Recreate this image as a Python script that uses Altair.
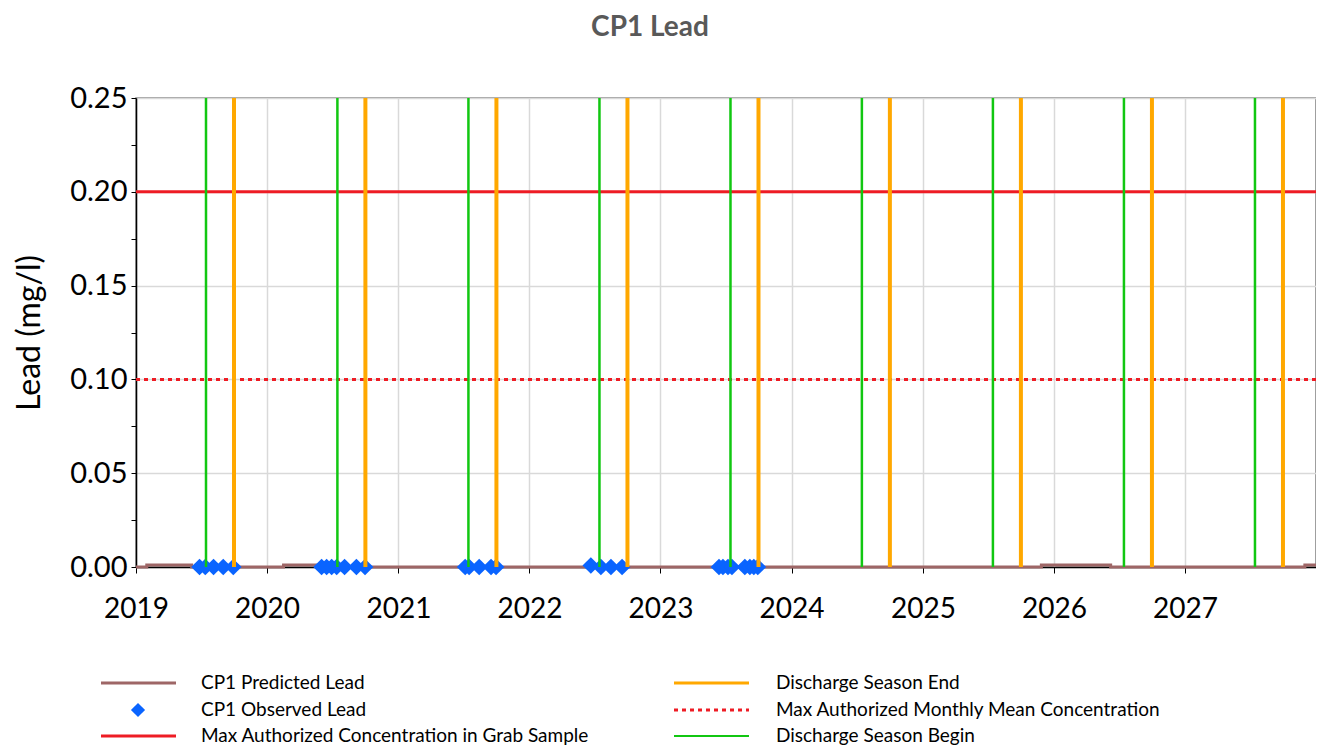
import altair as alt
import pandas as pd

# ---------------- data ----------------
begin_dates = ["2019-07-15T00:00:00", "2020-07-15T00:00:00", "2021-07-15T00:00:00",
               "2022-07-15T00:00:00", "2023-07-15T00:00:00", "2024-07-15T00:00:00",
               "2025-07-15T00:00:00", "2026-07-15T00:00:00", "2027-07-15T00:00:00"]
end_dates = ["2019-10-01T00:00:00", "2020-10-01T00:00:00", "2021-10-01T00:00:00",
             "2022-10-01T00:00:00", "2023-10-01T00:00:00", "2024-10-01T00:00:00",
             "2025-10-01T00:00:00", "2026-10-01T00:00:00", "2027-10-01T00:00:00"]

predicted_dates = ["2019-01-01T00:00:00", "2019-01-31T00:00:00", "2019-06-05T00:00:00",
                   "2020-02-16T00:00:00", "2020-05-22T00:00:00", "2025-11-27T00:00:00",
                   "2026-06-08T00:00:00", "2027-12-01T00:00:00", "2028-01-01T00:00:00"]
predicted_values = [0.0, 0.001, 0.0, 0.001, 0.0, 0.001, 0.0, 0.001, 0.001]

observed_dates = ["2019-06-27", "2019-07-13", "2019-08-05", "2019-09-01", "2019-09-29",
                  "2020-06-01", "2020-06-15", "2020-06-29", "2020-07-13", "2020-08-04",
                  "2020-09-06", "2020-09-30",
                  "2021-07-06", "2021-07-17", "2021-08-14", "2021-09-16", "2021-09-30",
                  "2022-06-21", "2022-07-19", "2022-08-16", "2022-09-16",
                  "2023-06-13", "2023-06-24", "2023-07-08", "2023-07-19", "2023-08-24",
                  "2023-09-07", "2023-09-18", "2023-09-29"]
observed_values = [0.0, 0.0, 0.0, 0.0, 0.0,
                   0.0, 0.0, 0.0, 0.0, 0.0, 0.0, 0.0,
                   0.0, 0.0, 0.0, 0.0, 0.0,
                   0.0008, 0.0, 0.0, 0.0,
                   0.0, 0.0, 0.0, 0.0, 0.0, 0.0, 0.0, 0.0]

grab_limit = [0.20]
monthly_limit = [0.10]

x_tick_years = [2019, 2020, 2021, 2022, 2023, 2024, 2025, 2026, 2027]
y_ticks = [0.0, 0.025, 0.05, 0.075, 0.10, 0.125, 0.15, 0.175, 0.20, 0.225, 0.25]

chart_title = ["CP1 Lead"]
series_names = ["CP1 Predicted Lead", "CP1 Observed  Lead",
                "Max Authorized Concentration in Grab Sample",
                "Discharge Season End", "Max Authorized Monthly Mean Concentration",
                "Discharge Season Begin"]

# ---------------- styles ----------------
FONT = "Lato"
C_PRED = "#9e6666"
C_OBS = "#0a64ff"
C_RED = "#ee1c24"
C_ORANGE = "#ffa800"
C_GREEN = "#11c711"
W = 1180
H = 469

obs_full_dates = [d + "T00:00:00" for d in observed_dates]

pred_df = pd.DataFrame({"date": predicted_dates, "value": predicted_values})
obs_df = pd.DataFrame({"date": obs_full_dates, "value": observed_values})
begin_df = pd.DataFrame({"date": begin_dates})
end_df = pd.DataFrame({"date": end_dates})
grab_df = pd.DataFrame({"value": grab_limit})
month_df = pd.DataFrame({"value": monthly_limit})

x_scale = alt.Scale(domain=[alt.DateTime(year=2019, month=1, date=1),
                            alt.DateTime(year=2028, month=1, date=1)])
y_scale = alt.Scale(domain=[0, 0.25], nice=False, zero=True)

x_axis = alt.Axis(values=[alt.DateTime(year=y, month=1, date=1) for y in x_tick_years],
                  format="%Y", labelFlush=False, tickSize=6, labelPadding=22,
                  labelFontSize=28, grid=True, title=None, labelOverlap=False)
y_axis = alt.Axis(values=y_ticks, title="Lead (mg/l)",
                  labelExpr="round(datum.value*1000) % 50 == 0 ? format(datum.value, '.2f') : ''",
                  gridOpacity={"condition": {"test": "round(datum.value*1000) % 50 == 0", "value": 1}, "value": 0},
                  tickSize=5, labelPadding=4, labelFontSize=29, titleFontSize=32,
                  titleFontWeight="normal", titlePadding=23, labelOverlap=False)


def X(field="date"):
    return alt.X(f"{field}:T", scale=x_scale, axis=x_axis)


def Y(field="value"):
    return alt.Y(f"{field}:Q", scale=y_scale, axis=y_axis)


grab = alt.Chart(grab_df).mark_rule(color=C_RED, strokeWidth=3).encode(y=Y())
month = alt.Chart(month_df).mark_rule(color=C_RED, strokeWidth=3, strokeDash=[4, 4]).encode(y=Y())
pred = alt.Chart(pred_df).mark_line(color=C_PRED, strokeWidth=3, interpolate="step-after").encode(x=X(), y=Y())
obs = alt.Chart(obs_df).mark_point(shape="diamond", filled=True, size=280, color=C_OBS, opacity=1).encode(x=X(), y=Y())
begin = alt.Chart(begin_df).mark_rule(color=C_GREEN, strokeWidth=2.5).encode(x=X())
end = alt.Chart(end_df).mark_rule(color=C_ORANGE, strokeWidth=4).encode(x=X())

title = alt.Chart(pd.DataFrame({"t": chart_title})).mark_text(
    align="center", baseline="alphabetic", fontSize=28, font=FONT, fontWeight="bold",
    color="#595959"
).encode(x=alt.value(514), y=alt.value(-62), text="t:N")


# ---------------- legend (drawn below the plot) ----------------
def leg_text(name, xpos, ypos):
    return alt.Chart(pd.DataFrame({"label": [name]})).mark_text(
        align="left", baseline="middle", fontSize=19, font=FONT, color="black"
    ).encode(x=alt.value(xpos), y=alt.value(ypos), text="label:N")


def leg_line(name, xpos, ypos, color, width, dash=None):
    kw = dict(color=color, strokeWidth=width)
    if dash:
        kw["strokeDash"] = dash
    return alt.Chart(pd.DataFrame({"label": [name]})).mark_rule(**kw).encode(
        x=alt.value(xpos), x2=alt.value(xpos + 75), y=alt.value(ypos))


r1, r2, r3 = 585, 612, 638
lx, rx = -35, 538
ltx, rtx = 65, 640
legend_layers = [
    leg_line(series_names[0], lx, r1, C_PRED, 3), leg_text(series_names[0], ltx, r1),
    alt.Chart(pd.DataFrame({"label": [series_names[1]]})).mark_point(
        shape="diamond", filled=True, size=200, color=C_OBS, opacity=1
    ).encode(x=alt.value(2), y=alt.value(r2)),
    leg_text(series_names[1], ltx, r2),
    leg_line(series_names[2], lx, r3, C_RED, 3), leg_text(series_names[2], ltx, r3),
    leg_line(series_names[3], rx, r1, C_ORANGE, 3), leg_text(series_names[3], rtx, r1),
    leg_line(series_names[4], rx, r2, C_RED, 3, [4, 4]), leg_text(series_names[4], rtx, r2),
    leg_line(series_names[5], rx, r3, C_GREEN, 2), leg_text(series_names[5], rtx, r3),
]

chart = alt.layer(grab, month, pred, obs, begin, end, title, *legend_layers).properties(
    width=W, height=H,
    autosize=alt.AutoSizeParams(type="none"),
    padding={"left": 128, "top": 90, "right": 0, "bottom": 178},
).configure_view(
    stroke="#808080", strokeWidth=1.5
).configure_axis(
    labelFont=FONT, titleFont=FONT, labelColor="black", titleColor="black",
    domainColor="black", tickColor="black", gridColor="#d9d9d9", gridWidth=1.5,
    domainWidth=1.5
)

chart.save("out.html", embed_options={"renderer": "svg", "actions": False})
